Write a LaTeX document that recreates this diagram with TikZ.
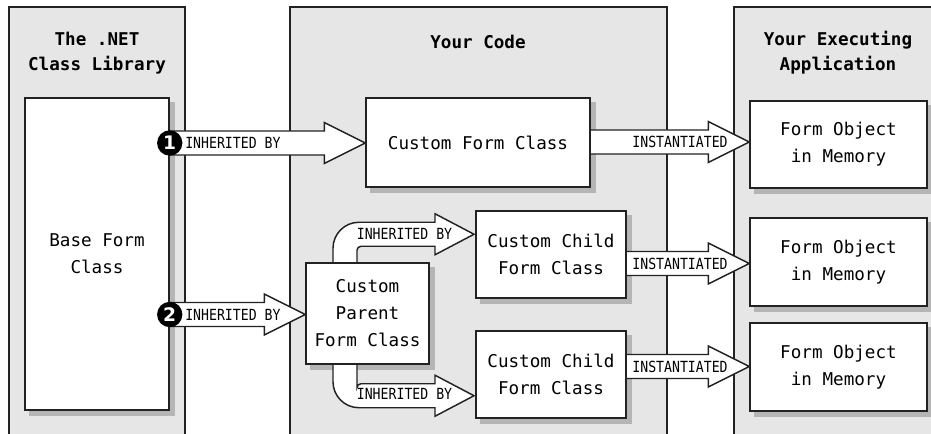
\documentclass[tikz,border=0pt]{standalone}
\usepackage{fontspec}
\usetikzlibrary{calc}
\newfontfamily\bodyf{DejaVu Sans Mono}
\newfontfamily\lblf[FakeStretch=0.86]{DejaVu Sans Mono}
\newfontfamily\badgef{DejaVu Sans}
\definecolor{colfill}{HTML}{E6E6E6}
\definecolor{shadowgray}{HTML}{B5B5B5}
\definecolor{edge}{HTML}{222222}
\pgfdeclarelayer{bg}
\pgfdeclarelayer{shadow}
\pgfdeclarelayer{arrows}
\pgfdeclarelayer{fg}
\pgfsetlayers{bg,shadow,arrows,main,fg}
\newcommand\fatarrow[2]{%
  \fill[white] ($(#1)+(0,-12)$) -- ($(#2)+(-41,-12)$) -- ($(#2)+(-41,-20.5)$) -- (#2) -- ($(#2)+(-41,20.5)$) -- ($(#2)+(-41,12)$) -- ($(#1)+(0,12)$) -- cycle;
  \draw[arrline] ($(#1)+(0,-12)$) -- ($(#2)+(-41,-12)$) -- ($(#2)+(-41,-20.5)$) -- (#2) -- ($(#2)+(-41,20.5)$) -- ($(#2)+(-41,12)$) -- ($(#1)+(0,12)$);
}
\begin{document}
\begin{tikzpicture}[x=0.75pt,y=-0.75pt,
 box/.style={draw=edge, fill=white, line width=1.1pt, inner sep=0pt, align=center,
   font=\bodyf\fontsize{13.2}{20.2}\selectfont},
 column/.style={draw=edge, line width=1.1pt},
 header/.style={align=center, inner sep=0pt, font=\bodyf\bfseries\fontsize{13.2}{18.6}\selectfont},
 lbl/.style={inner sep=0pt, font=\lblf\fontsize{11.5}{12}\selectfont},
 badge/.style={circle, fill=black, inner sep=0pt, minimum size=19pt, text=white,
   font=\badgef\bfseries\fontsize{14}{14}\selectfont},
 arrline/.style={draw=edge, line width=1.1pt, line join=miter}]
\useasboundingbox (0,0) rectangle (931,434);

% columns
\begin{pgfonlayer}{bg}
  \fill[colfill] (9,7) rectangle (185,434);
  \draw[column] (9,434) -- (9,7) -- (185,7) -- (185,434);
  \fill[colfill] (290,7) rectangle (667,434);
  \draw[column] (290,434) -- (290,7) -- (667,7) -- (667,434);
  \fill[colfill] (734,7) rectangle (931,434);
  \draw[column] (734,434) -- (734,7) -- (935,7);
\end{pgfonlayer}

% headers
\node[header] (h1) at (97,53) {The .NET\\Class Library};
\node[header] (h2) at (478,42) {Your Code};
\node[header] (h3) at (838,53) {Your Executing\\Application};

% boxes
\node[box, minimum width=108pt, minimum height=234pt] (base) at (97,254) {Base Form\\Class};
\node[box, minimum width=168pt, minimum height=66.75pt] (cfc) at (478,142.5) {Custom Form Class};
\node[box, minimum width=132.75pt, minimum height=65.25pt] (fo1) at (838.5,144.5) {Form Object\\in Memory};
\node[box, minimum width=132.75pt, minimum height=66pt] (fo2) at (838.5,262) {Form Object\\in Memory};
\node[box, minimum width=132.75pt, minimum height=66pt] (fo3) at (838.5,367) {Form Object\\in Memory};
\node[box, minimum width=112.5pt, minimum height=65.25pt] (ch1) at (551,254.5) {Custom Child\\Form Class};
\node[box, minimum width=112.5pt, minimum height=65.25pt] (ch2) at (551,374.5) {Custom Child\\Form Class};
\node[box, minimum width=92.25pt, minimum height=75.75pt] (par) at (367.5,313.5) {Custom\\Parent\\Form Class};

% shadows
\begin{pgfonlayer}{shadow}
  \foreach \n in {base,cfc,fo1,fo2,fo3,ch1,ch2,par}
    \fill[shadowgray] ($(\n.south west)+(5,5)$) rectangle ($(\n.north east)+(5,5)$);
\end{pgfonlayer}

% arrow end points
\coordinate (ya) at (0,143);
\coordinate (yb) at (0,314.5);
\coordinate (yc) at (0,142);
\coordinate (yd) at (0,263.5);
\coordinate (ye) at (0,366.5);
\coordinate (a1s) at (base.east |- ya);
\coordinate (a1e) at (cfc.west |- ya);
\coordinate (a2s) at (base.east |- yb);
\coordinate (a2e) at (par.west |- yb);
\coordinate (i1s) at (cfc.east |- yc);
\coordinate (i1e) at (fo1.west |- yc);
\coordinate (i2s) at (ch1.east |- yd);
\coordinate (i2e) at (fo2.west |- yd);
\coordinate (i3s) at (ch2.east |- ye);
\coordinate (i3e) at (fo3.west |- ye);

\begin{pgfonlayer}{arrows}
  \fatarrow{a1s}{a1e}
  \fatarrow{a2s}{a2e}
  \fatarrow{i1s}{i1e}
  \fatarrow{i2s}{i2e}
  \fatarrow{i3s}{i3e}
  % curved arrow to upper child
  \begin{scope}[shift={(par.north)}]
    \fill[white] (-34.5,0) -- (-34.5,-14) .. controls (-34.5,-28.4) and (-22.9,-40) .. (-8.5,-40)
      -- (67.5,-40) -- (67.5,-48.5) -- (106.5,-28) -- (67.5,-7.5) -- (67.5,-16) -- (-6.5,-16)
      .. controls (-8.7,-16) and (-10.5,-14.2) .. (-10.5,-12) -- (-10.5,0) -- cycle;
    \draw[arrline] (-34.5,0) -- (-34.5,-14) .. controls (-34.5,-28.4) and (-22.9,-40) .. (-8.5,-40)
      -- (67.5,-40) -- (67.5,-48.5) -- (106.5,-28) -- (67.5,-7.5) -- (67.5,-16) -- (-6.5,-16)
      .. controls (-8.7,-16) and (-10.5,-14.2) .. (-10.5,-12) -- (-10.5,0);
  \end{scope}
  % curved arrow to lower child
  \begin{scope}[shift={(par.south)}]
    \fill[white] (-34.5,0) -- (-34.5,17) .. controls (-34.5,31.4) and (-22.9,43) .. (-8.5,43)
      -- (67.5,43) -- (67.5,51.5) -- (106.5,31) -- (67.5,10.5) -- (67.5,19) -- (-6.5,19)
      .. controls (-8.7,19) and (-10.5,20.8) .. (-10.5,23) -- (-10.5,0) -- cycle;
    \draw[arrline] (-34.5,0) -- (-34.5,17) .. controls (-34.5,31.4) and (-22.9,43) .. (-8.5,43)
      -- (67.5,43) -- (67.5,51.5) -- (106.5,31) -- (67.5,10.5) -- (67.5,19) -- (-6.5,19)
      .. controls (-8.7,19) and (-10.5,20.8) .. (-10.5,23) -- (-10.5,0);
  \end{scope}
\end{pgfonlayer}

% arrow labels
\node[lbl, anchor=west] (l1) at (185,143) {INHERITED BY};
\node[lbl, anchor=west] (l2) at (185,314.5) {INHERITED BY};
\node[lbl] (l3) at (404.5,234) {INHERITED BY};
\node[lbl] (l4) at (404.5,394) {INHERITED BY};
\node[lbl] (l5) at (680,142) {INSTANTIATED};
\node[lbl] (l6) at (680,263.5) {INSTANTIATED};
\node[lbl] (l7) at (680,366.5) {INSTANTIATED};

% badges
\begin{pgfonlayer}{fg}
  \node[badge] (b1) at (a1s) {1};
  \node[badge] (b2) at (a2s) {2};
\end{pgfonlayer}
\end{tikzpicture}
\end{document}
